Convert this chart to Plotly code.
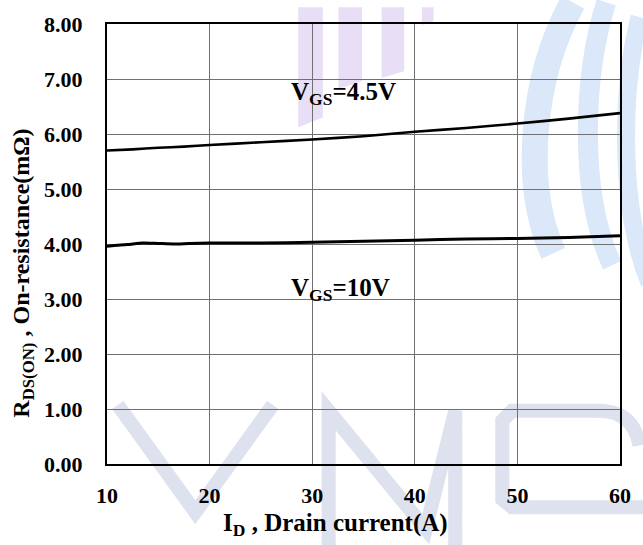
import plotly.graph_objects as go

# ---- data ----
id_45 = [10, 12.5, 15, 17.5, 20, 25, 30, 35, 40, 45, 50, 55, 60]
r_45 = [5.70, 5.72, 5.75, 5.77, 5.80, 5.85, 5.90, 5.96, 6.04, 6.11, 6.19, 6.28, 6.38]

id_10 = [10, 12, 13.5, 15, 16.5, 18, 20, 25, 30, 35, 40, 45, 50, 55, 60]
r_10 = [3.96, 3.99, 4.02, 4.01, 4.00, 4.01, 4.02, 4.02, 4.03, 4.05, 4.07, 4.09, 4.10, 4.12, 4.15]

x_ticks = [10, 20, 30, 40, 50, 60]
y_ticks = [0, 1, 2, 3, 4, 5, 6, 7, 8]

label_45 = "V<sub>GS</sub>=4.5V"
label_10 = "V<sub>GS</sub>=10V"
x_title = "I<sub>D</sub> , Drain current(A)"
y_title = "R<sub>DS(ON)</sub> , On-resistance(mΩ)"

W, H = 643, 545
L, R, T, B = 107, 630, 17, 464  # plot area in pixels

FONT = "Liberation Serif"

def px(x):
    return (x - L) / (R - L)

def py(y):
    return (B - y) / (B - T)

def path(points, close=False):
    s = ""
    for i, (a, b) in enumerate(points):
        s += ("M " if i == 0 else " L ") + f"{px(a):.4f},{py(b):.4f}"
    if close:
        s += " Z"
    return s

fig = go.Figure()

fig.add_trace(go.Scatter(x=id_45, y=r_45, mode="lines",
                         line=dict(color="black", width=2.6, shape="spline", smoothing=0.6),
                         showlegend=False, hoverinfo="skip"))
fig.add_trace(go.Scatter(x=id_10, y=r_10, mode="lines",
                         line=dict(color="black", width=3, shape="spline", smoothing=0.6),
                         showlegend=False, hoverinfo="skip"))

# ---- faint watermark (decorative background) ----
shapes = []
purple = "rgb(232,222,245)"
blue = "rgb(218,232,249)"
lav = "rgb(222,225,238)"
for pts in ([(302, 0), (327, 0), (327, 112), (302, 122)],
            [(343, 0), (367, 0), (367, 75), (343, 83)],
            [(387, 0), (410, 0), (410, 65), (387, 72)],
            [(428, 0), (440, 0), (440, 14), (428, 18)]):
    shapes.append(dict(type="path", xref="paper", yref="paper", path=path(pts, True),
                       fillcolor=purple, line=dict(width=0), layer="below"))

def cpath(p0, c1, c2, p1):
    return (f"M {px(p0[0]):.4f},{py(p0[1]):.4f} C {px(c1[0]):.4f},{py(c1[1]):.4f} "
            f"{px(c2[0]):.4f},{py(c2[1]):.4f} {px(p1[0]):.4f},{py(p1[1]):.4f}")

for p0, c1, c2, p1, w in (((582, -5), (540, 70), (530, 180), (562, 250), 26),
                           ((616, -5), (592, 70), (588, 190), (622, 262), 20),
                           ((650, 10), (632, 80), (628, 200), (660, 280), 18)):
    shapes.append(dict(type="path", xref="paper", yref="paper", path=cpath(p0, c1, c2, p1),
                       line=dict(color=blue, width=w), layer="below"))

for pts in ([(118, 404), (197, 513), (276, 404)],
            [(333, 560), (333, 410), (432, 530), (462, 410), (462, 560)],
            [(610, 410), (520, 410), (510, 420), (510, 500), (520, 508), (660, 508)]):
    shapes.append(dict(type="path", xref="paper", yref="paper", path=path(pts),
                       line=dict(color=lav, width=14), layer="below"))
shapes.append(dict(type="path", xref="paper", yref="paper",
                   path=cpath((608, 410), (630, 410), (645, 420), (650, 445)),
                   line=dict(color=lav, width=14), layer="below"))

annotations = [
    dict(x=27.78, y=6.74, xref="x", yref="y", text=label_45, showarrow=False,
         xanchor="left", yanchor="middle", font=dict(family=FONT, size=25, color="black", weight="bold")),
    dict(x=27.78, y=3.17, xref="x", yref="y", text=label_10, showarrow=False,
         xanchor="left", yanchor="middle", font=dict(family=FONT, size=25, color="black", weight="bold")),
    dict(x=px(340), y=py(525), xref="paper", yref="paper", text=x_title, showarrow=False,
         xanchor="center", yanchor="middle", font=dict(family=FONT, size=25, color="black", weight="bold")),
    dict(x=px(21), y=py(270), xref="paper", yref="paper", text=y_title, showarrow=False,
         textangle=-90, xanchor="center", yanchor="middle",
         font=dict(family=FONT, size=24, color="black", weight="bold")),
]

axis_common = dict(showgrid=True, gridcolor="#707070", gridwidth=1.2, zeroline=False,
                   showline=True, linecolor="black", linewidth=2, mirror=True,
                   ticks="", tickfont=dict(family=FONT, size=22, color="black", weight="bold"))

fig.update_layout(
    width=W, height=H,
    margin=dict(l=L, r=W - R, t=T, b=H - B, pad=0),
    paper_bgcolor="white", plot_bgcolor="rgba(0,0,0,0)",
    xaxis=dict(range=[10, 60], tickvals=x_ticks, ticktext=[str(v) for v in x_ticks],
               ticklabelstandoff=11, **axis_common),
    yaxis=dict(range=[0, 8], tickvals=y_ticks, ticktext=[f"{v:.2f}" for v in y_ticks],
               ticklabelstandoff=18, **axis_common),
    shapes=shapes, annotations=annotations, showlegend=False,
)

fig.write_html("out.html")
